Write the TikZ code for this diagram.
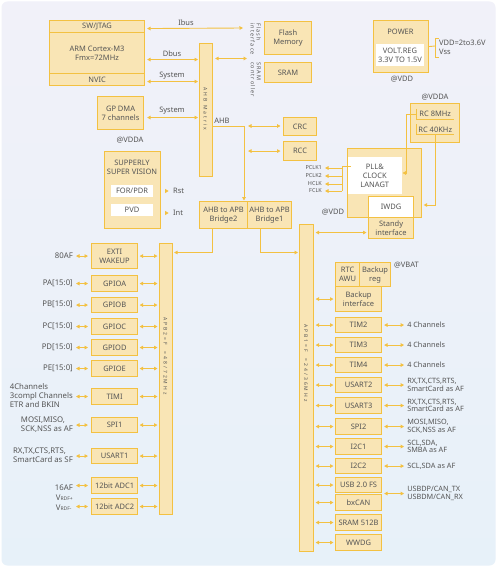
\documentclass[tikz,border=0pt]{standalone}
\usepackage{fontspec}
\setmainfont{Noto Sans}
\usetikzlibrary{arrows.meta,calc}
\definecolor{gold}{HTML}{F3C142}
\definecolor{boxf}{HTML}{F9E5B5}
\definecolor{txt}{HTML}{555555}
\definecolor{bgtop}{HTML}{F1F1F9}
\definecolor{bgbot}{HTML}{E7F1F9}
\newcommand\boxfnt{\fontsize{7.5}{9}\selectfont}
\newcommand\lblfnt{\fontsize{7.8}{9}\selectfont}
\newcommand\rgtfnt{\fontsize{7.3}{7.6}\selectfont}
\newcommand\smlfnt{\fontsize{5.5}{6}\selectfont}
\newcommand\barfnt{\fontsize{5}{6}\selectfont\addfontfeature{LetterSpace=40}}
\newcommand\vfnt{\fontsize{5.5}{6}\selectfont\addfontfeature{LetterSpace=20}}
\tikzset{
 blk/.style={draw=gold, fill=boxf, line width=1.1pt, text=txt, font=\boxfnt, align=center, inner sep=0pt},
 wbox/.style={fill=white, draw=none, text=txt, font=\boxfnt, align=center, inner sep=0pt},
 bi/.style={{Triangle[length=3.5pt,width=3.6pt]}-{Triangle[length=3.5pt,width=3.6pt]}, draw=gold, line width=0.9pt},
 arr/.style={-{Triangle[length=3.5pt,width=3.6pt]}, draw=gold, line width=0.9pt},
 ln/.style={draw=gold, line width=0.9pt},
 tx/.style={text=txt, font=\boxfnt, inner sep=0pt, align=center},
 llab/.style={text=txt, font=\lblfnt, inner sep=0pt, align=left},
 rlab/.style={text=txt, font=\rgtfnt, inner sep=0pt, align=left, anchor=west},
 sml/.style={text=txt, font=\smlfnt, inner sep=0pt, anchor=east},
 bartxt/.style={text=txt, font=\barfnt, inner sep=0pt, rotate=-90},
 vtxt/.style={text=txt, font=\vfnt, inner sep=0pt, align=left, rotate=-90, anchor=north west},
}
\newcommand\mkbox[7][]{\node[blk,anchor=north west,minimum width={(#5-#3)*1pt},minimum height={(#6-#4)*1pt},#1] (#2) at (#3,#4) {#7};}
\newcommand\leftrow[5]{%
 \mkbox{#1}{91}{#2}{137}{#3}{#4}
 \node[llab,anchor=east] (#1l) at (73,{(#2+#3)/2}) {#5};
 \draw[bi,shorten <=3pt,shorten >=3pt] (#1l.east |- #1.west) -- (#1.west);
 \draw[bi,shorten <=1.5pt,shorten >=1.5pt] (#1.east) -- (#1.east -| apb2.west);
}
\newcommand\rightrow[4]{%
 \mkbox{#1}{335}{#2}{381}{#3}{#4}
 \draw[bi,shorten <=1.5pt,shorten >=1.5pt] (#1.west -| apb1.east) -- (#1.west);
}
\newcommand\rlabel[2]{%
 \node[rlab] (#1l) at ([xshift=25pt]#1.east) {#2};
 \draw[bi,shorten <=2pt,shorten >=3pt] (#1.east) -- (#1l.west);
}
\begin{document}
\begin{tikzpicture}[x=1pt,y=-1pt]
\useasboundingbox (0,0) rectangle (497,567);
\fill[white] (0,0) rectangle (497,567);
\shade[rounded corners=6pt, top color=bgtop, bottom color=bgbot] (1.5,1.5) rectangle (495.5,565.5);

% CPU
\mkbox{jtag}{49}{20}{144}{32}{SW/JTAG}
\mkbox{arm}{49}{32}{144}{73}{ARM Cortex-M3\\Fmx=72MHz}
\mkbox{nvic}{49}{73}{144}{85}{NVIC}
\mkbox{dma}{97}{96}{143}{129}{GP DMA\\7 channels}
\mkbox{matrix}{199}{43}{212}{176}{}
\node[bartxt] (ahbtxt) at (205.5,109) {AHB Matrix};

\mkbox{flash}{264}{21}{311}{54}{Flash\\Memory}
\mkbox{sram}{264}{62}{311}{82}{SRAM}
\node[vtxt] (flif) at (261,23) {Flash\\interface};
\node[vtxt] (srif) at (261,62) {SRAM\\controller};

\coordinate (ibe) at (243,28);
\draw[bi,shorten <=2pt] ([yshift=-2pt]jtag.east) -- (ibe);
\node[tx] (ibus) at (186,22.5) {Ibus};
\draw[bi,shorten <=2pt,shorten >=1pt] ([yshift=-6.5pt]arm.east) -- ([yshift=-6.5pt]arm.east -| matrix.west);
\node[tx] (dbus) at (172,54) {Dbus};
\coordinate (dfe) at (247,58.5);
\draw[bi,shorten <=2pt] (matrix.east |- dfe) -- (dfe);
\draw[bi,shorten <=2pt,shorten >=1pt] ([yshift=-2pt]nvic.east) -- ([yshift=-2pt]nvic.east -| matrix.west);
\node[tx] (sys1) at (172,75.5) {System};
\draw[bi,shorten <=3pt,shorten >=1pt] ([yshift=-4.5pt]dma.east) -- ([yshift=-4.5pt]dma.east -| matrix.west);
\node[tx] (sys2) at (172,110.5) {System};

% AHB
\mkbox{br2}{199}{201}{247}{228}{AHB to APB\\Bridge2}
\mkbox{br1}{247}{201}{291}{228}{AHB to APB\\Bridge1}
\coordinate (ahbc) at (244,126);
\draw[arr,shorten >=0.5pt] (matrix.east |- ahbc) -- (ahbc) -- (ahbc |- br1.north);
\node[tx] (ahblbl) at (222,120.5) {AHB};
\mkbox{crc}{283}{117}{316}{135}{CRC}
\mkbox{rcc}{283}{141}{316}{160}{RCC}
\coordinate (crcl) at (248,126);
\draw[bi,shorten >=2.5pt] (crcl) -- (crcl -| crc.west);
\draw[bi,shorten >=2.5pt] (crcl |- rcc.west) -- (rcc.west);

% Power
\mkbox{power}{373}{20}{428}{72}{}
\node[tx] (powlbl) at (400.5,32) {POWER};
\node[wbox, minimum width=48pt, minimum height=22pt] (vreg) at (400,55) {VOLT.REG\\3.3V TO 1.5V};
\coordinate (brk) at (435,46);
\draw[ln] (power.east) -- (brk);
\draw[ln] (438.5,38) -- (435,38) -- (435,57) -- (438.5,57);
\node[tx,anchor=west] (vdd) at (439,43) {VDD=2to3.6V};
\node[tx,anchor=west] (vss) at (439,52) {Vss};
\node[tx] (atvdd1) at (402,79) {@VDD};

% RC
\node[tx] (atvdda2) at (435,97) {@VDDA};
\mkbox{rcbox}{410}{103}{459}{142}{}
\node[tx,anchor=north west,minimum width=38pt,minimum height=10pt] (rc8) at (416,109) {RC 8MHz};
\node[tx,anchor=north west,minimum width=38pt,minimum height=10pt] (rc40) at (416,124.5) {RC 40KHz};
\draw[ln] (rc8.north west) -- (rc8.south west) -- (rc8.south east);
\draw[ln] (rc40.north west) -- (rc40.south west) -- (rc40.south east);

% clock
\mkbox{clk}{347}{148}{421}{217}{}
\node[wbox, anchor=north west, minimum width=54pt, minimum height=37pt] (pll) at (347.6,157) {PLL\&\\CLOCK\\LANAGT};
\mkbox[fill=white]{iwdg}{368}{196}{413}{217}{IWDG}
\mkbox{standy}{368}{217}{413}{238}{Standy\\interface}
\node[tx] (atvdd2) at (333,212) {@VDD};
\coordinate (ckt) at (342,166);
\coordinate (ckb) at (342,191);
\draw[ln] ([xshift=3pt]ckt -| pll.west) -- (ckt) -- (ckb);
\node[sml] (pclk1) at (322,168) {PCLK1};
\node[sml] (pclk2) at (322,176) {PCLK2};
\node[sml] (hclk) at (322,184) {HCLK};
\node[sml] (fclk) at (322,191) {FCLK};
\foreach \c in {pclk1,pclk2,hclk,fclk}{\draw[arr,shorten >=3pt] (ckt |- \c) -- (\c.east);}
\coordinate (r8v) at (406,173);
\draw[arr,shorten >=0.5pt] (rc8.west) -| (r8v) -- (r8v -| pll.east);
\coordinate (r4v) at (435,205);
\draw[arr,shorten >=1.5pt] (r4v |- rc40.south) -- (r4v) -- (r4v -| clk.east);

% supervision
\node[tx] (atvdda1) at (130,140) {@VDDA};
\mkbox{sup}{104}{151}{160}{228}{}
\node[tx] (suplbl) at (132,167.5) {SUPPERLY\\SUPER VISION};
\node[wbox, minimum width=42pt, minimum height=12pt] (por) at (132,191) {FOR/PDR};
\node[wbox, minimum width=42pt, minimum height=12pt] (pvd) at (132,210) {PVD};
\fill[gold] (165,188.8) -- (168.6,191) -- (165,193.2) -- cycle;
\fill[gold] (165,210.8) -- (168.6,213) -- (165,215.2) -- cycle;
\node[tx,anchor=west] (rst) at (173,191) {Rst};
\node[tx,anchor=west] (int) at (173,213) {Int};

% APB bars
\mkbox{apb2}{159}{243}{172}{514}{}
\node[bartxt] (apb2t) at (165.5,356) {APB2=F\ \ =48/72MHz};
\mkbox{apb1}{299}{224}{313}{551}{}
\node[bartxt] (apb1t) at (306,363) {APB1=F\ \ =24/36MHz};

\coordinate (b2t) at (212,252.5);
\draw[arr,shorten >=1pt] (b2t |- br2.south) -- (b2t) -- (b2t -| apb2.east);
\coordinate (b1t) at (260,252.5);
\draw[arr,shorten >=1pt] (b1t |- br1.south) -- (b1t) -- (b1t -| apb1.west);
\draw[bi,shorten <=1.5pt,shorten >=1.5pt] ([yshift=-4.5pt]standy.west -| apb1.east) -- ([yshift=-4.5pt]standy.west);

% left column
\leftrow{exti}{243}{268}{EXTI\\WAKEUP}{80AF}
\leftrow{gpa}{275}{291}{GPIOA}{PA[15:0]}
\leftrow{gpb}{297}{312}{GPIOB}{PB[15:0]}
\leftrow{gpc}{318}{334}{GPIOC}{PC[15:0]}
\leftrow{gpd}{339}{355}{GPIOD}{PD[15:0]}
\leftrow{gpe}{360}{376}{GPIOE}{PE[15:0]}
\leftrow{timi}{388}{404}{TIMI}{4Channels\\3compl Channels\\ETR and BKIN}
\leftrow{spi}{417}{432}{SPI1}{MOSI,MISO,\\SCK,NSS as AF}
\leftrow{usa}{448}{463}{USART1}{RX,TX,CTS,RTS,\\SmartCard as SF}
\mkbox{adc1}{91}{477}{137}{493}{12bit ADC1}
\mkbox{adc2}{91}{498}{137}{514}{12bit ADC2}
\node[llab,anchor=east] (adc1l) at (73,487.5) {16AF};
\node[llab,anchor=east,font=\fontsize{7.8}{10}\selectfont] (adc2l) at (73,502.5) {V{\fontsize{5}{5}\selectfont RDF+}\\V{\fontsize{5}{5}\selectfont RDF-}};
\draw[bi,shorten <=3pt,shorten >=3pt] (adc1l.east |- adc1.west) -- (adc1.west);
\draw[bi,shorten <=3pt,shorten >=3pt] (adc1l.east |- adc2.west) -- (adc2.west);
\draw[bi,shorten <=1.5pt,shorten >=1.5pt] (adc1.east) -- (adc1.east -| apb2.west);
\draw[bi,shorten <=1.5pt,shorten >=1.5pt] (adc2.east) -- (adc2.east -| apb2.west);

% right column
\mkbox{rtc}{335}{262}{359}{286}{RTC\\AWU}
\mkbox{bkr}{359}{262}{390}{286}{Backup\\reg}
\node[tx,anchor=west] (vbat) at (394,265.5) {@VBAT};
\rightrow{bki}{286}{311}{Backup\\interface}
\rightrow{tim2}{317}{332}{TIM2}
\rlabel{tim2}{4 Channels}
\rightrow{tim3}{337}{352}{TIM3}
\rlabel{tim3}{4 Channels}
\rightrow{tim4}{357}{372}{TIM4}
\rlabel{tim4}{4 Channels}
\rightrow{us2}{377}{392}{USART2}
\rlabel{us2}{RX,TX,CTS,RTS,\\SmartCard as AF}
\rightrow{us3}{397}{413}{USART3}
\rlabel{us3}{RX,TX,CTS,RTS,\\SmartCard as AF}
\rightrow{spi2}{418}{434}{SPI2}
\rlabel{spi2}{MOSI,MISO,\\SCK,NSS as AF}
\rightrow{i2ca}{438}{454}{I2C1}
\rlabel{i2ca}{SCL,SDA,\\SMBA as AF}
\rightrow{i2cb}{458}{473}{I2C2}
\rlabel{i2cb}{SCL,SDA as AF}
\rightrow{usb}{477}{492}{USB 2.0 FS}
\rightrow{can}{494}{510}{bxCAN}
\rightrow{sramb}{514}{530}{SRAM 512B}
\rightrow{wwdg}{534}{550}{WWDG}
\coordinate (ubm) at ($(usb.south east)!0.5!(can.north east)$);
\node[rlab] (usbl) at ([xshift=25pt]ubm) {USBDP/CAN\_TX\\USBDM/CAN\_RX};
\draw[bi,shorten <=2pt,shorten >=3pt] (ubm) -- (usbl.west);
\end{tikzpicture}
\end{document}
